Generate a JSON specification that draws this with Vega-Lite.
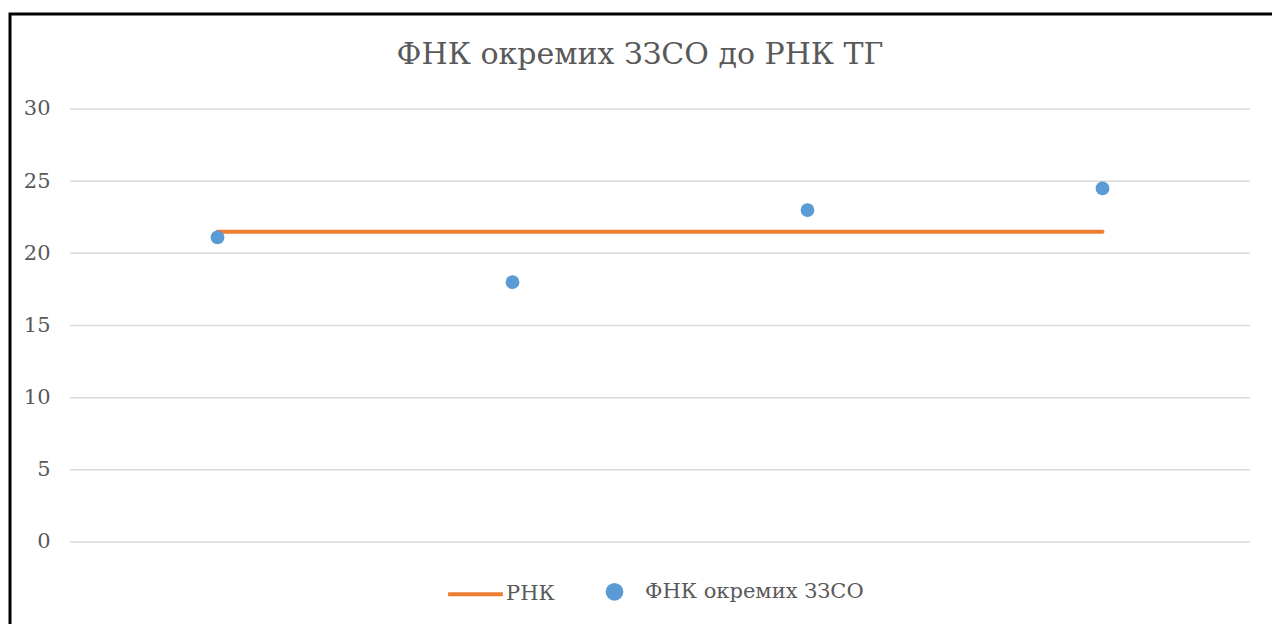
{
  "$schema": "https://vega.github.io/schema/vega-lite/v6.json",
  "width": 1272,
  "height": 626,
  "autosize": "none",
  "padding": {"left": 10, "top": 14, "right": 0, "bottom": 0},
  "background": "white",
  "config": {
    "view": {"stroke": "#000000", "strokeWidth": 3},
    "font": "DejaVu Serif",
    "axisY": {"grid": false, "domain": false, "ticks": false, "tickSize": 0, "labelPadding": 0, "offset": -40, "labelFontSize": 21, "labelColor": "#595959", "labelFont": "DejaVu Serif"}
  },
  "title": {"text": "ФНК окремих ЗЗСО до РНК ТГ", "fontSize": 30, "font": "DejaVu Serif", "fontWeight": "normal", "color": "#595959", "anchor": "middle", "offset": -80, "baseline": "alphabetic", "dx": -6},
  "datasets": {
    "schools": [
      {"n": 1, "fnk": 21.1, "rnk": 21.5},
      {"n": 2, "fnk": 18.0, "rnk": 21.5},
      {"n": 3, "fnk": 23.0, "rnk": 21.5},
      {"n": 4, "fnk": 24.5, "rnk": 21.5}
    ],
    "grid": [{"v": 0}, {"v": 5}, {"v": 10}, {"v": 15}, {"v": 20}, {"v": 25}, {"v": 30}]
  },
  "layer": [
    {
      "data": {"name": "grid"},
      "mark": {"type": "rule", "color": "#d9d9d9", "strokeWidth": 1.5},
      "encoding": {
        "y": {"field": "v", "type": "quantitative", "title": null, "scale": {"domain": [-6.79, 36.582], "nice": false, "zero": false}, "axis": {"values": [0, 5, 10, 15, 20, 25, 30]}},
        "x": {"datum": 0.5, "type": "quantitative", "scale": {"domain": [0.29661, 4.60847], "nice": false, "zero": false}, "axis": null},
        "x2": {"datum": 4.5}
      }
    },
    {
      "data": {"name": "schools"},
      "mark": {"type": "line", "strokeWidth": 4, "strokeCap": "round"},
      "encoding": {
        "x": {"field": "n", "type": "quantitative", "axis": null},
        "y": {"field": "rnk", "type": "quantitative", "title": null},
        "color": {
          "datum": "РНК",
          "scale": {"domain": ["РНК", "ФНК окремих ЗЗСО"], "range": ["#ED7D31", "#5B9BD5"]},
          "legend": {
            "orient": "none", "legendX": 455, "legendY": 567, "direction": "horizontal", "title": null,
            "labelFontSize": 21, "labelColor": "#595959", "labelFont": "DejaVu Serif", "labelLimit": 500,
            "symbolSize": 3000, "columnPadding": 44, "labelOffset": 20,
            "encode": {"symbols": {"update": {
              "shape": {"signal": "datum.value === 'РНК' ? 'stroke' : 'circle'"},
              "size": {"signal": "datum.value === 'РНК' ? 3000 : 190"},
              "fill": {"signal": "datum.value === 'РНК' ? 'transparent' : '#5B9BD5'"},
              "stroke": {"signal": "datum.value === 'РНК' ? '#ED7D31' : 'transparent'"},
              "strokeWidth": {"value": 4},
              "opacity": {"value": 1},
              "fillOpacity": {"value": 1},
              "strokeOpacity": {"value": 1}
            }}}
          }
        }
      }
    },
    {
      "data": {"name": "schools"},
      "mark": {"type": "point", "filled": true, "opacity": 1, "size": 190, "strokeWidth": 0},
      "encoding": {
        "x": {"field": "n", "type": "quantitative", "axis": null},
        "y": {"field": "fnk", "type": "quantitative", "title": null},
        "color": {"datum": "ФНК окремих ЗЗСО"}
      }
    }
  ]
}
